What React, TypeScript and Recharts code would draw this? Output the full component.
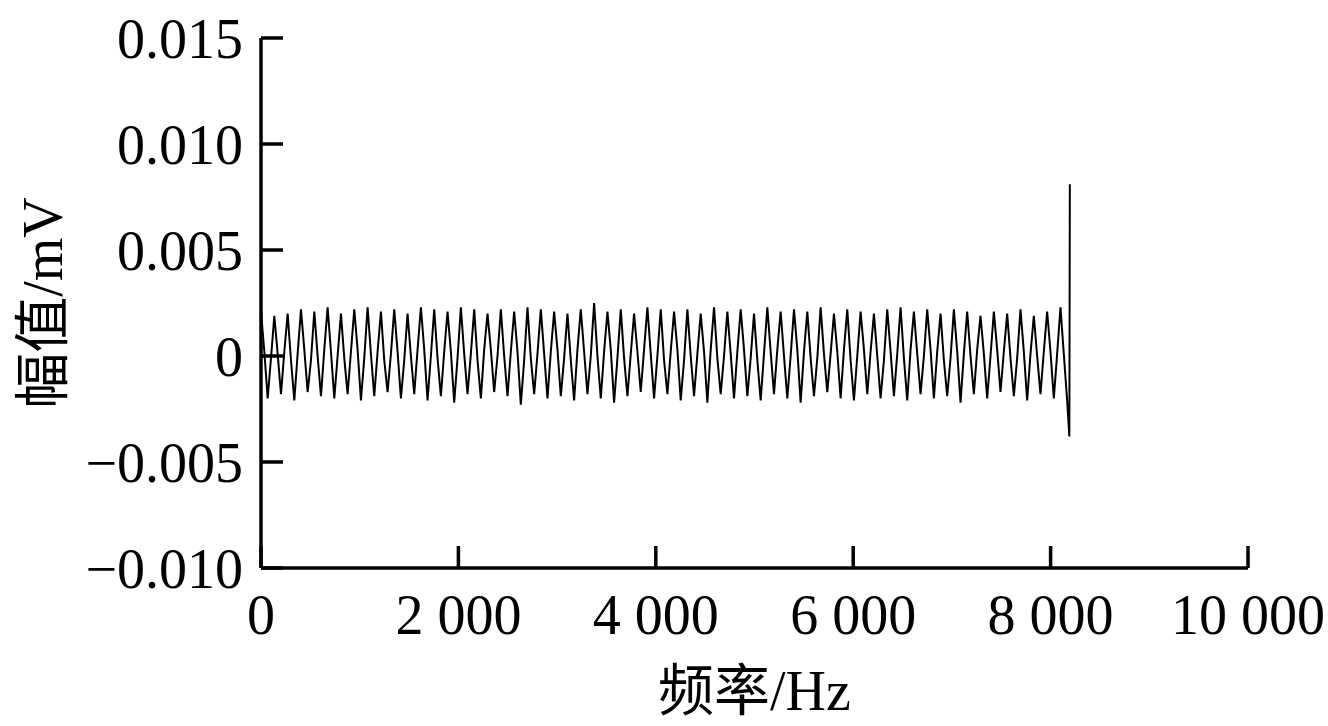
import React from 'react';
import { LineChart, Line, XAxis, YAxis, Label } from 'recharts';

// FFT bin width of the main trace (Hz); one row below = one ripple period
const BIN_HZ = 33.75;

// amplitude in 1e-3 mV, rows = [peak, falling, trough, rising]
const RIPPLE_AMP = [
  2.1, 0.2, -2.0, -0.1,
  1.9, 0.1, -1.8, 0.2,
  2.0, -0.2, -2.1, 0.1,
  2.2, 0.3, -1.7, -0.2,
  2.1, 0.0, -1.9, 0.3,
  2.3, 0.2, -2.0, 0.0,
  2.0, -0.1, -1.8, 0.2,
  2.2, 0.3, -2.1, -0.1,
  2.3, 0.1, -1.9, 0.2,
  2.1, -0.2, -1.7, 0.1,
  2.2, 0.2, -2.0, -0.2,
  2.0, 0.0, -1.8, 0.3,
  2.3, 0.3, -2.1, 0.0,
  2.2, -0.1, -1.9, 0.2,
  2.1, 0.2, -2.2, -0.1,
  2.3, 0.1, -1.8, 0.1,
  2.2, -0.2, -2.0, 0.3,
  2.0, 0.3, -1.7, 0.0,
  2.2, 0.0, -1.9, 0.2,
  2.1, 0.2, -2.3, -0.2,
  2.3, -0.1, -1.8, 0.1,
  2.2, 0.1, -2.0, 0.2,
  2.1, 0.3, -1.9, -0.1,
  2.0, -0.2, -2.1, 0.3,
  2.2, 0.2, -1.8, 0.0,
  2.5, 0.0, -2.0, 0.2,
  2.1, 0.3, -2.2, -0.1,
  2.2, -0.1, -1.9, 0.1,
  2.0, 0.2, -1.7, 0.3,
  2.3, 0.1, -2.0, 0.0,
  2.2, -0.2, -1.8, 0.2,
  2.1, 0.3, -2.1, -0.2,
  2.2, 0.0, -1.9, 0.1,
  2.0, 0.2, -2.2, 0.3,
  2.3, -0.1, -1.8, 0.0,
  2.1, 0.1, -2.0, 0.2,
  2.2, 0.3, -1.9, -0.1,
  2.0, -0.2, -2.1, 0.1,
  2.3, 0.2, -1.8, 0.3,
  2.1, 0.0, -2.0, 0.0,
  2.2, 0.3, -2.2, 0.2,
  2.1, -0.1, -1.9, -0.1,
  2.3, 0.1, -1.7, 0.1,
  2.0, 0.2, -2.0, 0.3,
  2.2, -0.2, -2.1, 0.0,
  2.1, 0.3, -1.8, 0.2,
  2.0, 0.0, -2.0, -0.2,
  2.2, 0.2, -1.9, 0.1,
  2.3, -0.1, -2.1, 0.3,
  2.1, 0.1, -1.8, 0.0,
  2.2, 0.3, -2.0, 0.2,
  2.0, -0.2, -1.9, -0.1,
  2.2, 0.2, -2.2, 0.1,
  2.1, 0.0, -1.8, 0.3,
  1.9, 0.1, -2.0, 0.0,
  2.1, 0.3, -1.7, 0.2,
  2.0, -0.1, -1.9, -0.1,
  2.2, 0.2, -2.1, 0.1,
  1.9, 0.0, -1.8, 0.2,
  2.1, 0.2, -2.0, 0.1,
  2.3, 0.1, -2.1,
];

// the spike at the end of the band
const SPIKE_FREQ = [8190, 8195];
const SPIKE_AMP = [-3.8, 8.1];

const X_TICKS = [0, 2000, 4000, 6000, 8000, 10000];
const X_TICK_LABELS = ['0', '2 000', '4 000', '6 000', '8 000', '10 000'];
const Y_TICKS = [-0.01, -0.005, 0, 0.005, 0.01, 0.015];
const Y_TICK_LABELS = ['\u22120.010', '\u22120.005', '0', '0.005', '0.010', '0.015'];

const X_TITLE = '频率/Hz';
const Y_TITLE = '幅值/mV';

const data = [
  ...RIPPLE_AMP.map((a, i) => ({ f: i * BIN_HZ, v: a / 1000 })),
  ...SPIKE_FREQ.map((f, i) => ({ f, v: SPIKE_AMP[i] / 1000 })),
];

const FONT = '"Liberation Serif", "Times New Roman", "Noto Sans CJK SC", serif';
const FS = 56;
const TICK_LEN = 22;
const Y_MARGIN = 18;
const X_MARGIN = 26;
const AXIS_W = 3.5;

const YTick = ({ x, y, payload }: any) => {
  const i = Y_TICKS.indexOf(payload.value);
  const ax = x + Y_MARGIN;
  return (
    <g>
      <line x1={ax} x2={ax + TICK_LEN} y1={y} y2={y} stroke="#000" strokeWidth={AXIS_W} />
      <text x={x} y={y} dy="0.355em" textAnchor="end" fontFamily={FONT} fontSize={FS} fill="#000">
        {Y_TICK_LABELS[i]}
      </text>
    </g>
  );
};

const XTick = ({ x, y, payload }: any) => {
  const i = X_TICKS.indexOf(payload.value);
  const ay = y - X_MARGIN;
  return (
    <g>
      <line x1={x} x2={x} y1={ay} y2={ay - TICK_LEN} stroke="#000" strokeWidth={AXIS_W} />
      <text x={x} y={y} dy="0.71em" textAnchor="middle" fontFamily={FONT} fontSize={FS} fill="#000">
        {X_TICK_LABELS[i]}
      </text>
    </g>
  );
};

const XTitle = ({ viewBox }: any) => (
  <text x={viewBox.x + viewBox.width / 2} y={viewBox.y + 142} textAnchor="middle"
    fontFamily={FONT} fontSize={FS} fill="#000">{X_TITLE}</text>
);

const YTitle = ({ viewBox }: any) => {
  const cx = viewBox.x + 62;
  const cy = viewBox.y + viewBox.height / 2;
  return (
    <text x={cx} y={cy} textAnchor="middle" transform={`rotate(-90, ${cx}, ${cy})`}
      fontFamily={FONT} fontSize={FS} fill="#000">{Y_TITLE}</text>
  );
};

export default function App() {
  return (
    <div style={{ position: 'absolute', left: 0, top: 0, background: '#fff' }}>
      <LineChart width={1328} height={726} data={data}
        margin={{ top: 38, right: 80, bottom: 0, left: 0 }}>
        <XAxis dataKey="f" type="number" domain={[0, 10000]} ticks={X_TICKS}
          height={158} tickSize={0} tickMargin={X_MARGIN} tick={<XTick />}
          axisLine={{ stroke: '#000', strokeWidth: AXIS_W }} interval={0}>
          <Label content={<XTitle />} />
        </XAxis>
        <YAxis type="number" domain={[-0.01, 0.015]} ticks={Y_TICKS}
          width={261} tickSize={0} tickMargin={Y_MARGIN} tick={<YTick />}
          axisLine={{ stroke: '#000', strokeWidth: AXIS_W }} interval={0}>
          <Label content={<YTitle />} />
        </YAxis>
        <Line type="linear" dataKey="v" stroke="#000" strokeWidth={2} dot={false}
          isAnimationActive={false} />
      </LineChart>
    </div>
  );
}
